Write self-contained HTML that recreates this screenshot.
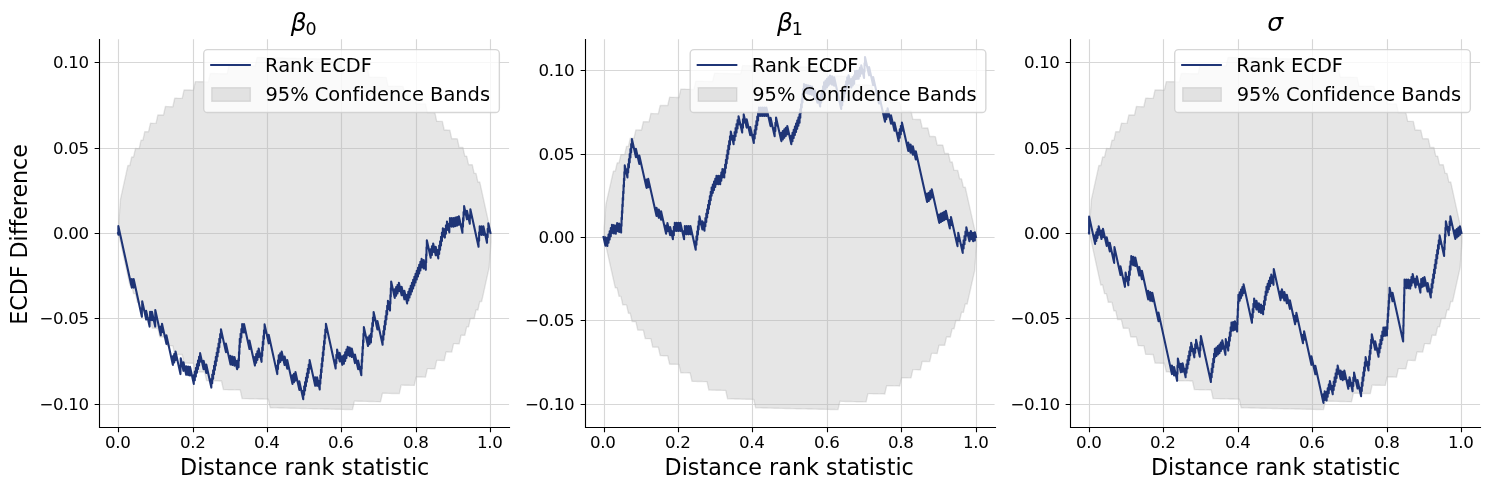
<!DOCTYPE html>
<html lang="en"><head><meta charset="utf-8"><title>SBC ECDF difference plots</title>
<style>html,body{margin:0;padding:0;background:#fff}svg{display:block}text{fill:#000}</style></head>
<body>
<svg width="1489" height="490" viewBox="0 0 1489 490" font-family="'DejaVu Sans', 'Liberation Sans', sans-serif" role="img" aria-label="SBC rank ECDF difference plots">
<rect width="1489" height="490" fill="#fff"/>
<defs>
<clipPath id="c0"><rect x="99.41" y="39.33" width="409.66" height="387.39"/></clipPath>
<clipPath id="c1"><rect x="584.90" y="39.33" width="409.66" height="387.39"/></clipPath>
<clipPath id="c2"><rect x="1070.39" y="39.33" width="409.66" height="387.39"/></clipPath>
</defs>
<g>
<polygon clip-path="url(#c0)" points="118.58,225.01 120.45,199.44 122.32,190.95 124.20,182.45 126.07,173.96 127.94,165.46 129.81,165.51 131.68,157.01 133.55,157.06 135.42,148.56 137.30,148.60 139.17,148.65 141.04,140.15 142.91,140.20 144.78,131.70 146.65,131.75 148.52,131.79 150.40,123.29 152.27,123.34 154.14,123.38 156.01,123.42 157.88,114.93 159.75,114.97 161.62,115.01 163.50,115.06 165.37,106.56 167.24,106.61 169.11,106.65 170.98,106.69 172.85,106.73 174.72,98.24 176.60,98.28 178.47,98.33 180.34,98.37 182.21,98.41 184.08,89.92 185.95,89.96 187.82,90.00 189.70,90.05 191.57,90.09 193.44,90.13 195.31,81.64 197.18,81.68 199.05,81.72 200.92,81.77 202.80,81.81 204.67,81.85 206.54,81.89 208.41,81.94 210.28,73.44 212.15,73.49 214.02,73.53 215.90,73.57 217.77,73.61 219.64,73.66 221.51,73.70 223.38,73.74 225.25,73.79 227.12,73.83 229.00,65.33 230.87,65.38 232.74,65.42 234.61,65.46 236.48,65.51 238.35,65.55 240.23,65.59 242.10,65.63 243.97,65.68 245.84,65.72 247.71,65.76 249.58,65.80 251.45,65.85 253.33,65.89 255.20,65.93 257.07,57.44 258.94,57.48 260.81,57.52 262.68,57.57 264.55,57.61 266.43,57.65 268.30,57.69 270.17,57.74 272.04,57.78 273.91,57.82 275.78,57.87 277.65,57.91 279.53,57.95 281.40,57.99 283.27,58.04 285.14,58.08 287.01,58.12 288.88,58.16 290.75,58.21 292.63,58.25 294.50,58.29 296.37,58.34 298.24,58.38 300.11,58.42 301.98,58.46 303.85,58.51 305.73,58.55 307.60,58.59 309.47,58.63 311.34,58.68 313.21,58.72 315.08,58.76 316.95,58.81 318.83,58.85 320.70,58.89 322.57,58.93 324.44,58.98 326.31,59.02 328.18,59.06 330.05,59.10 331.93,59.15 333.80,59.19 335.67,59.23 337.54,59.28 339.41,59.32 341.28,67.90 343.15,67.94 345.03,67.98 346.90,68.03 348.77,68.07 350.64,68.11 352.51,68.15 354.38,68.20 356.25,68.24 358.13,68.28 360.00,68.32 361.87,68.37 363.74,68.41 365.61,68.45 367.48,68.50 369.35,77.08 371.23,77.12 373.10,77.16 374.97,77.20 376.84,77.25 378.71,77.29 380.58,77.33 382.46,77.37 384.33,77.42 386.20,77.46 388.07,86.04 389.94,86.08 391.81,86.12 393.68,86.17 395.56,86.21 397.43,86.25 399.30,86.30 401.17,86.34 403.04,86.38 404.91,94.96 406.78,95.00 408.66,95.05 410.53,95.09 412.40,95.13 414.27,95.17 416.14,103.75 418.01,103.80 419.88,103.84 421.76,103.88 423.63,103.92 425.50,103.97 427.37,112.55 429.24,112.59 431.11,112.63 432.98,112.67 434.86,112.72 436.73,121.30 438.60,121.34 440.47,121.38 442.34,121.42 444.21,130.00 446.08,130.05 447.96,130.09 449.83,130.13 451.70,138.71 453.57,138.75 455.44,138.80 457.31,138.84 459.18,147.42 461.06,147.46 462.93,147.50 464.80,156.08 466.67,156.12 468.54,164.70 470.41,164.75 472.28,164.79 474.16,173.37 476.03,173.41 477.90,181.99 479.77,182.03 481.64,190.61 483.51,199.19 485.38,207.77 487.26,216.35 489.13,224.93 491.00,233.51 491.00,242.04 489.13,267.61 487.26,276.10 485.38,284.60 483.51,293.09 481.64,301.59 479.77,301.54 477.90,310.04 476.03,309.99 474.16,318.49 472.28,318.45 470.41,318.40 468.54,326.90 466.67,326.85 464.80,335.35 462.93,335.30 461.06,335.26 459.18,343.76 457.31,343.71 455.44,343.67 453.57,343.63 451.70,352.12 449.83,352.08 447.96,352.04 446.08,351.99 444.21,360.49 442.34,360.44 440.47,360.40 438.60,360.36 436.73,360.32 434.86,368.81 432.98,368.77 431.11,368.72 429.24,368.68 427.37,368.64 425.50,377.13 423.63,377.09 421.76,377.05 419.88,377.00 418.01,376.96 416.14,376.92 414.27,385.41 412.40,385.37 410.53,385.33 408.66,385.28 406.78,385.24 404.91,385.20 403.04,385.16 401.17,385.11 399.30,393.61 397.43,393.56 395.56,393.52 393.68,393.48 391.81,393.44 389.94,393.39 388.07,393.35 386.20,393.31 384.33,393.26 382.46,393.22 380.58,401.72 378.71,401.67 376.84,401.63 374.97,401.59 373.10,401.54 371.23,401.50 369.35,401.46 367.48,401.42 365.61,401.37 363.74,401.33 361.87,401.29 360.00,401.25 358.13,401.20 356.25,401.16 354.38,401.12 352.51,409.61 350.64,409.57 348.77,409.53 346.90,409.48 345.03,409.44 343.15,409.40 341.28,409.36 339.41,409.31 337.54,409.27 335.67,409.23 333.80,409.18 331.93,409.14 330.05,409.10 328.18,409.06 326.31,409.01 324.44,408.97 322.57,408.93 320.70,408.89 318.83,408.84 316.95,408.80 315.08,408.76 313.21,408.71 311.34,408.67 309.47,408.63 307.60,408.59 305.73,408.54 303.85,408.50 301.98,408.46 300.11,408.42 298.24,408.37 296.37,408.33 294.50,408.29 292.63,408.24 290.75,408.20 288.88,408.16 287.01,408.12 285.14,408.07 283.27,408.03 281.40,407.99 279.53,407.95 277.65,407.90 275.78,407.86 273.91,407.82 272.04,407.77 270.17,407.73 268.30,399.15 266.43,399.11 264.55,399.07 262.68,399.02 260.81,398.98 258.94,398.94 257.07,398.90 255.20,398.85 253.33,398.81 251.45,398.77 249.58,398.73 247.71,398.68 245.84,398.64 243.97,398.60 242.10,398.55 240.23,389.97 238.35,389.93 236.48,389.89 234.61,389.85 232.74,389.80 230.87,389.76 229.00,389.72 227.12,389.68 225.25,389.63 223.38,389.59 221.51,381.01 219.64,380.97 217.77,380.93 215.90,380.88 214.02,380.84 212.15,380.80 210.28,380.75 208.41,380.71 206.54,380.67 204.67,372.09 202.80,372.05 200.92,372.00 199.05,371.96 197.18,371.92 195.31,371.88 193.44,363.30 191.57,363.25 189.70,363.21 187.82,363.17 185.95,363.13 184.08,363.08 182.21,354.50 180.34,354.46 178.47,354.42 176.60,354.38 174.72,354.33 172.85,345.75 170.98,345.71 169.11,345.67 167.24,345.63 165.37,337.05 163.50,337.00 161.62,336.96 159.75,336.92 157.88,328.34 156.01,328.30 154.14,328.25 152.27,328.21 150.40,319.63 148.52,319.59 146.65,319.55 144.78,310.97 142.91,310.93 141.04,302.35 139.17,302.30 137.30,302.26 135.42,293.68 133.55,293.64 131.68,285.06 129.81,285.02 127.94,276.44 126.07,267.86 124.20,259.28 122.32,250.70 120.45,242.12 118.58,233.54" fill="#808080" fill-opacity="0.2" stroke="#808080" stroke-opacity="0.2" stroke-width="1.389" stroke-linejoin="round"/>
<path d="M118.5 39.33 V426.72 M193.5 39.33 V426.72 M267.5 39.33 V426.72 M341.5 39.33 V426.72 M416.5 39.33 V426.72 M490.5 39.33 V426.72 M99.41 404.5 H509.07 M99.41 318.5 H509.07 M99.41 233.5 H509.07 M99.41 148.5 H509.07 M99.41 62.5 H509.07" fill="none" stroke="#b0b0b0" stroke-opacity="0.5" stroke-width="1.111"/>
<polyline clip-path="url(#c0)" points="118.03,233.03 118.38,234.64 118.38,226.10 131.79,287.57 131.79,279.03 133.65,287.57 133.65,279.03 141.88,316.78 141.88,308.24 142.21,309.74 142.21,301.20 146.18,319.41 146.18,310.87 149.61,326.59 149.61,318.06 150.10,320.29 150.10,311.76 151.96,320.29 151.96,311.76 155.20,326.59 155.20,318.06 155.28,318.45 155.28,309.92 160.79,335.16 160.79,326.63 162.01,332.23 162.01,323.69 166.41,343.86 166.41,335.33 172.86,364.88 172.86,356.34 174.20,362.49 174.20,353.96 175.54,360.11 175.54,351.57 180.46,374.10 180.46,365.57 180.74,366.84 180.74,358.31 183.47,370.82 183.47,362.29 186.20,374.80 186.20,366.27 188.13,375.11 188.13,366.57 190.05,375.41 190.05,366.88 193.77,383.90 193.77,375.36 194.82,380.20 194.82,371.66 195.88,376.50 195.88,367.96 196.93,372.80 196.93,364.26 197.99,369.10 197.99,360.56 199.04,365.40 199.04,356.86 200.10,361.70 200.10,353.16 203.62,369.29 203.62,360.76 206.28,372.97 206.28,364.43 211.33,387.57 211.33,379.03 212.22,383.14 212.22,374.61 213.12,378.72 213.12,370.18 214.02,374.29 214.02,365.75 214.91,369.86 214.91,361.32 215.81,365.43 215.81,356.90 216.71,361.00 216.71,352.47 217.60,356.58 217.60,348.04 218.50,352.15 218.50,343.61 219.32,347.37 219.32,338.84 220.14,342.60 220.14,334.06 220.96,337.82 220.96,329.29 225.95,352.15 225.95,343.61 230.48,364.39 230.48,355.86 232.48,365.01 232.48,356.47 234.47,365.62 234.47,357.08 237.13,369.29 237.13,360.76 238.57,367.33 238.57,358.79 238.97,360.63 238.97,352.10 239.37,353.94 239.37,345.41 239.77,347.25 239.77,338.71 240.57,342.35 240.57,333.82 241.36,337.45 241.36,328.92 242.16,332.56 242.16,324.02 244.02,332.56 244.02,324.02 249.47,349.02 249.47,340.49 254.93,365.49 254.93,356.95 256.17,362.68 256.17,354.14 257.42,359.86 257.42,351.32 258.67,357.05 258.67,348.51 261.57,361.82 261.57,353.28 262.18,356.04 262.18,347.50 262.78,350.26 262.78,341.72 263.38,344.48 263.38,335.94 263.98,338.70 263.98,330.17 264.58,332.92 264.58,324.39 268.71,343.33 268.71,334.80 277.29,374.10 277.29,365.57 278.02,368.94 278.02,360.41 278.76,363.78 278.76,355.24 280.22,361.94 280.22,353.41 281.68,360.11 281.68,351.57 284.61,365.01 284.61,356.47 287.28,368.68 287.28,360.14 292.46,383.90 292.46,375.36 293.96,382.25 293.96,373.71 295.46,380.60 295.46,372.06 299.36,389.90 299.36,381.36 303.25,399.20 303.25,390.67 304.16,394.84 304.16,386.31 305.07,390.48 305.07,381.95 305.98,386.12 305.98,377.59 306.89,381.76 306.89,373.22 307.80,377.40 307.80,368.86 308.71,373.04 308.71,364.50 309.62,368.68 309.62,360.14 315.21,385.73 315.21,377.20 317.10,385.86 317.10,377.33 319.73,389.41 319.73,380.87 320.35,383.70 320.35,375.17 320.97,378.00 320.97,369.46 321.58,372.29 321.58,363.76 322.20,366.59 322.20,358.05 322.82,360.88 322.82,352.34 323.44,355.17 323.44,346.64 324.05,349.47 324.05,340.93 324.67,343.76 324.67,335.23 325.29,338.06 325.29,329.52 325.91,332.35 325.91,323.82 335.65,368.49 335.65,359.95 336.37,363.23 336.37,354.69 337.08,357.97 337.08,349.43 339.69,361.39 339.69,352.85 342.30,364.82 342.30,356.28 343.92,363.72 343.92,355.18 345.17,360.90 345.17,352.36 346.42,358.07 346.42,349.54 347.66,355.25 347.66,346.71 349.71,356.12 349.71,347.58 351.76,356.99 351.76,348.45 354.95,363.07 354.95,354.53 358.14,369.14 358.14,360.61 361.33,375.22 361.33,366.69 361.75,368.63 361.75,360.09 362.18,362.04 362.18,353.50 362.60,355.44 362.60,346.91 363.02,348.85 363.02,340.31 363.45,342.25 363.45,333.72 363.87,335.66 363.87,327.12 367.98,345.94 367.98,337.40 369.45,344.17 369.45,335.63 370.93,342.39 370.93,333.86 371.60,336.94 371.60,328.41 372.27,331.50 372.27,322.96 372.95,326.05 372.95,317.51 373.62,320.60 373.62,312.06 377.43,329.54 377.43,321.00 382.61,344.71 382.61,336.18 383.37,339.66 383.37,331.12 384.12,334.61 384.12,326.07 384.88,329.55 384.88,321.01 385.64,324.50 385.64,315.96 386.40,319.44 386.40,310.91 387.16,314.39 387.16,305.85 387.92,309.33 387.92,300.80 390.02,310.43 390.02,301.89 390.40,303.63 390.40,295.10 390.78,296.84 390.78,288.30 391.16,290.05 391.16,281.51 394.73,297.88 394.73,289.34 396.12,295.68 396.12,287.14 397.50,293.47 397.50,284.94 398.88,291.27 398.88,282.73 401.62,295.31 401.62,286.77 404.37,299.35 404.37,290.81 407.11,303.39 407.11,294.85 408.32,300.39 408.32,291.85 409.52,297.39 409.52,288.85 410.73,294.39 410.73,285.85 411.94,291.39 411.94,282.85 413.15,288.39 413.15,279.85 414.36,285.39 414.36,276.85 415.56,282.39 415.56,273.85 416.77,279.39 416.77,270.86 417.98,276.39 417.98,267.86 419.19,273.39 419.19,264.86 420.39,270.39 420.39,261.86 421.60,267.39 421.60,258.86 423.72,268.55 423.72,260.02 425.83,269.71 425.83,261.18 426.17,262.72 426.17,254.18 426.50,255.72 426.50,247.18 426.84,248.72 426.84,240.18 430.68,257.78 430.68,249.24 431.92,254.93 431.92,246.40 433.16,252.09 433.16,243.55 435.71,255.24 435.71,246.70 438.26,258.39 438.26,249.85 439.18,254.05 439.18,245.52 440.09,249.72 440.09,241.18 441.01,245.39 441.01,236.85 441.93,241.05 441.93,232.52 442.84,236.72 442.84,228.18 444.89,237.57 444.89,229.03 445.93,233.78 445.93,225.24 446.96,229.99 446.96,221.45 449.34,232.37 449.34,223.83 449.95,226.62 449.95,218.08 451.81,226.62 451.81,218.08 453.67,226.62 453.67,218.08 455.42,226.09 455.42,217.56 457.17,225.57 457.17,217.03 458.86,224.78 458.86,216.24 462.44,232.67 462.44,224.14 463.00,226.68 463.00,218.14 463.55,220.68 463.55,212.14 464.11,214.68 464.11,206.14 466.96,219.21 466.96,210.67 469.80,223.73 469.80,215.20 470.36,217.74 470.36,209.20 478.55,246.76 478.55,238.22 479.12,240.82 479.12,232.28 479.69,234.88 479.69,226.35 481.55,234.88 481.55,226.35 483.41,234.88 483.41,226.35 486.99,242.78 486.99,234.24 487.66,237.30 487.66,228.76 488.33,231.82 488.33,223.29 490.45,233.03" fill="none" stroke="#132a70" stroke-opacity="0.95" stroke-width="2.083" stroke-linejoin="round" stroke-linecap="square"/>
<path d="M99.5 39.5 V427.5 M99.5 427.5 H509.5" fill="none" stroke="#000" stroke-width="1.111" stroke-linecap="square"/>
<path d="M118.5 427.5 v4.86 M193.5 427.5 v4.86 M267.5 427.5 v4.86 M341.5 427.5 v4.86 M416.5 427.5 v4.86 M490.5 427.5 v4.86 M99.5 404.5 h-4.86 M99.5 318.5 h-4.86 M99.5 233.5 h-4.86 M99.5 148.5 h-4.86 M99.5 62.5 h-4.86" fill="none" stroke="#000" stroke-width="1.111"/>
<g font-size="16.667" text-anchor="middle" letter-spacing="-0.40">
<text x="117.70" y="448.32">0.0</text>
<text x="192.70" y="448.32">0.2</text>
<text x="266.70" y="448.32">0.4</text>
<text x="340.70" y="448.32">0.6</text>
<text x="415.70" y="448.32">0.8</text>
<text x="489.70" y="448.32">1.0</text>
</g>
<g font-size="16.667" text-anchor="end" letter-spacing="-0.40">
<text x="88.61" y="410.33">−0.10</text>
<text x="88.61" y="324.33">−0.05</text>
<text x="88.61" y="239.33">0.00</text>
<text x="88.61" y="154.33">0.05</text>
<text x="88.61" y="68.33">0.10</text>
</g>
<text x="304.69" y="475.01" font-size="22.222" text-anchor="middle" letter-spacing="0.04">Distance rank statistic</text>
<text x="290.70" y="31.00" font-size="25.000"><tspan font-style="italic">β</tspan><tspan font-size="17.500" x="305.45" dy="4.10">0</tspan></text>
<rect x="203.70" y="49.65" width="295.65" height="62.91" rx="3.89" fill="#fff" fill-opacity="0.8" stroke="#ccc" stroke-opacity="0.8" stroke-width="1.389"/>
<path d="M210.18 65.05 H250.87" stroke="#132a70" stroke-opacity="0.95" stroke-width="2.083"/>
<rect x="211.73" y="87.70" width="38.60" height="13.60" fill="#808080" fill-opacity="0.2" stroke="#808080" stroke-opacity="0.2" stroke-width="1.389"/>
<text x="265.12" y="72.20" font-size="19.444">Rank ECDF</text>
<text x="265.52" y="100.65" font-size="19.444" letter-spacing="-0.02">95% Confidence Bands</text>
</g>
<g>
<polygon clip-path="url(#c1)" points="604.07,229.26 605.94,204.28 607.81,195.98 609.69,187.68 611.56,179.38 613.43,171.09 615.30,171.13 617.17,162.83 619.04,162.87 620.91,154.57 622.79,154.62 624.66,154.66 626.53,146.36 628.40,146.40 630.27,138.10 632.14,138.14 634.01,138.19 635.89,129.89 637.76,129.93 639.63,129.97 641.50,130.01 643.37,121.71 645.24,121.76 647.11,121.80 648.99,121.84 650.86,113.54 652.73,113.58 654.60,113.63 656.47,113.67 658.34,113.71 660.21,105.41 662.09,105.45 663.96,105.49 665.83,105.54 667.70,105.58 669.57,97.28 671.44,97.32 673.31,97.36 675.19,97.40 677.06,97.45 678.93,97.49 680.80,89.19 682.67,89.23 684.54,89.27 686.41,89.32 688.29,89.36 690.16,89.40 692.03,89.44 693.90,89.48 695.77,81.18 697.64,81.23 699.51,81.27 701.39,81.31 703.26,81.35 705.13,81.39 707.00,81.43 708.87,81.48 710.74,81.52 712.61,81.56 714.49,73.26 716.36,73.30 718.23,73.35 720.10,73.39 721.97,73.43 723.84,73.47 725.72,73.51 727.59,73.55 729.46,73.60 731.33,73.64 733.20,73.68 735.07,73.72 736.94,73.76 738.82,73.80 740.69,73.85 742.56,65.55 744.43,65.59 746.30,65.63 748.17,65.67 750.04,65.72 751.92,65.76 753.79,65.80 755.66,65.84 757.53,65.88 759.40,65.92 761.27,65.97 763.14,66.01 765.02,66.05 766.89,66.09 768.76,66.13 770.63,66.17 772.50,66.22 774.37,66.26 776.24,66.30 778.12,66.34 779.99,66.38 781.86,66.42 783.73,66.47 785.60,66.51 787.47,66.55 789.34,66.59 791.22,66.63 793.09,66.68 794.96,66.72 796.83,66.76 798.70,66.80 800.57,66.84 802.44,66.88 804.32,66.93 806.19,66.97 808.06,67.01 809.93,67.05 811.80,67.09 813.67,67.13 815.54,67.18 817.42,67.22 819.29,67.26 821.16,67.30 823.03,67.34 824.90,67.38 826.77,75.77 828.64,75.81 830.52,75.85 832.39,75.89 834.26,75.93 836.13,75.98 838.00,76.02 839.87,76.06 841.74,76.10 843.62,76.14 845.49,76.18 847.36,76.23 849.23,76.27 851.10,76.31 852.97,76.35 854.84,84.73 856.72,84.77 858.59,84.82 860.46,84.86 862.33,84.90 864.20,84.94 866.07,84.98 867.95,85.02 869.82,85.07 871.69,85.11 873.56,93.49 875.43,93.53 877.30,93.57 879.17,93.61 881.05,93.66 882.92,93.70 884.79,93.74 886.66,93.78 888.53,93.82 890.40,102.21 892.27,102.25 894.15,102.29 896.02,102.33 897.89,102.37 899.76,102.41 901.63,110.80 903.50,110.84 905.37,110.88 907.25,110.92 909.12,110.96 910.99,111.00 912.86,119.39 914.73,119.43 916.60,119.47 918.47,119.51 920.35,119.55 922.22,127.93 924.09,127.98 925.96,128.02 927.83,128.06 929.70,136.44 931.57,136.48 933.45,136.52 935.32,136.57 937.19,144.95 939.06,144.99 940.93,145.03 942.80,145.07 944.67,153.45 946.55,153.50 948.42,153.54 950.29,161.92 952.16,161.96 954.03,170.34 955.90,170.38 957.77,170.43 959.65,178.81 961.52,178.85 963.39,187.23 965.26,187.27 967.13,195.66 969.00,204.04 970.87,212.42 972.75,220.80 974.62,229.18 976.49,237.56 976.49,245.90 974.62,270.88 972.75,279.18 970.87,287.48 969.00,295.78 967.13,304.07 965.26,304.03 963.39,312.33 961.52,312.29 959.65,320.59 957.77,320.54 955.90,320.50 954.03,328.80 952.16,328.76 950.29,337.06 948.42,337.02 946.55,336.97 944.67,345.27 942.80,345.23 940.93,345.19 939.06,345.15 937.19,353.44 935.32,353.40 933.45,353.36 931.57,353.32 929.70,361.62 927.83,361.58 925.96,361.53 924.09,361.49 922.22,361.45 920.35,369.75 918.47,369.71 916.60,369.67 914.73,369.62 912.86,369.58 910.99,377.88 909.12,377.84 907.25,377.80 905.37,377.75 903.50,377.71 901.63,377.67 899.76,385.97 897.89,385.93 896.02,385.89 894.15,385.84 892.27,385.80 890.40,385.76 888.53,385.72 886.66,385.68 884.79,393.98 882.92,393.93 881.05,393.89 879.17,393.85 877.30,393.81 875.43,393.77 873.56,393.72 871.69,393.68 869.82,393.64 867.95,393.60 866.07,401.90 864.20,401.86 862.33,401.81 860.46,401.77 858.59,401.73 856.72,401.69 854.84,401.65 852.97,401.61 851.10,401.56 849.23,401.52 847.36,401.48 845.49,401.44 843.62,401.40 841.74,401.35 839.87,401.31 838.00,409.61 836.13,409.57 834.26,409.53 832.39,409.49 830.52,409.44 828.64,409.40 826.77,409.36 824.90,409.32 823.03,409.28 821.16,409.24 819.29,409.19 817.42,409.15 815.54,409.11 813.67,409.07 811.80,409.03 809.93,408.99 808.06,408.94 806.19,408.90 804.32,408.86 802.44,408.82 800.57,408.78 798.70,408.73 796.83,408.69 794.96,408.65 793.09,408.61 791.22,408.57 789.34,408.53 787.47,408.48 785.60,408.44 783.73,408.40 781.86,408.36 779.99,408.32 778.12,408.28 776.24,408.23 774.37,408.19 772.50,408.15 770.63,408.11 768.76,408.07 766.89,408.03 765.02,407.98 763.14,407.94 761.27,407.90 759.40,407.86 757.53,407.82 755.66,407.77 753.79,399.39 751.92,399.35 750.04,399.31 748.17,399.27 746.30,399.23 744.43,399.18 742.56,399.14 740.69,399.10 738.82,399.06 736.94,399.02 735.07,398.98 733.20,398.93 731.33,398.89 729.46,398.85 727.59,398.81 725.72,390.43 723.84,390.39 721.97,390.34 720.10,390.30 718.23,390.26 716.36,390.22 714.49,390.18 712.61,390.13 710.74,390.09 708.87,390.05 707.00,381.67 705.13,381.63 703.26,381.59 701.39,381.54 699.51,381.50 697.64,381.46 695.77,381.42 693.90,381.38 692.03,381.34 690.16,372.95 688.29,372.91 686.41,372.87 684.54,372.83 682.67,372.79 680.80,372.75 678.93,364.36 677.06,364.32 675.19,364.28 673.31,364.24 671.44,364.20 669.57,364.16 667.70,355.77 665.83,355.73 663.96,355.69 662.09,355.65 660.21,355.61 658.34,347.23 656.47,347.18 654.60,347.14 652.73,347.10 650.86,338.72 648.99,338.68 647.11,338.63 645.24,338.59 643.37,330.21 641.50,330.17 639.63,330.13 637.76,330.09 635.89,321.70 634.01,321.66 632.14,321.62 630.27,313.24 628.40,313.20 626.53,304.82 624.66,304.77 622.79,304.73 620.91,296.35 619.04,296.31 617.17,287.93 615.30,287.89 613.43,279.50 611.56,271.12 609.69,262.74 607.81,254.36 605.94,245.98 604.07,237.60" fill="#808080" fill-opacity="0.2" stroke="#808080" stroke-opacity="0.2" stroke-width="1.389" stroke-linejoin="round"/>
<path d="M604.5 39.33 V426.72 M678.5 39.33 V426.72 M752.5 39.33 V426.72 M827.5 39.33 V426.72 M901.5 39.33 V426.72 M976.5 39.33 V426.72 M584.90 404.5 H994.56 M584.90 320.5 H994.56 M584.90 237.5 H994.56 M584.90 154.5 H994.56 M584.90 70.5 H994.56" fill="none" stroke="#b0b0b0" stroke-opacity="0.5" stroke-width="1.111"/>
<polyline clip-path="url(#c1)" points="603.52,237.08 605.45,245.73 605.45,237.39 607.38,246.04 607.38,237.70 608.52,242.81 608.52,234.47 609.66,239.58 609.66,231.24 610.80,236.35 610.80,228.01 611.94,233.12 611.94,224.78 613.88,233.46 613.88,225.12 615.82,233.80 615.82,225.46 617.12,231.28 617.12,222.94 619.13,231.93 619.13,223.59 621.13,232.57 621.13,224.23 621.53,226.03 621.53,217.69 621.94,219.50 621.94,211.16 622.34,212.96 622.34,204.62 622.74,206.42 622.74,198.08 623.14,199.88 623.14,191.54 623.55,193.34 623.55,185.00 623.95,186.80 623.95,178.46 624.35,180.27 624.35,171.93 624.75,173.73 624.75,165.39 627.45,177.47 627.45,169.13 628.19,172.46 628.19,164.12 628.94,167.45 628.94,159.11 629.68,162.44 629.68,154.10 630.42,157.42 630.42,149.08 631.17,152.41 631.17,144.07 631.91,147.40 631.91,139.06 635.96,157.20 635.96,148.86 639.32,163.93 639.32,155.59 646.53,187.88 646.53,179.54 648.24,187.20 648.24,178.86 656.55,216.04 656.55,207.70 658.81,217.84 658.81,209.50 661.07,219.65 661.07,211.31 666.10,233.80 666.10,225.46 667.40,231.28 667.40,222.94 670.15,235.29 670.15,226.95 672.91,239.31 672.91,230.97 673.85,235.17 673.85,226.83 674.79,231.03 674.79,222.69 676.65,231.03 676.65,222.69 678.51,231.03 678.51,222.69 680.38,231.03 680.38,222.69 684.09,239.31 684.09,230.97 684.84,234.34 684.84,226.00 686.70,234.34 686.70,226.00 688.56,234.34 688.56,226.00 690.43,234.34 690.43,226.00 695.72,249.71 695.72,241.37 696.46,244.68 696.46,236.34 697.20,239.65 697.20,231.31 697.93,234.61 697.93,226.27 698.67,229.58 698.67,221.24 699.41,224.54 699.41,216.20 702.38,229.51 702.38,221.17 704.50,230.67 704.50,222.33 705.39,226.30 705.39,217.96 706.28,221.94 706.28,213.60 707.17,217.58 707.17,209.24 708.05,213.22 708.05,204.88 708.94,208.86 708.94,200.52 709.83,204.49 709.83,196.15 710.72,200.13 710.72,191.79 711.61,195.77 711.61,187.43 712.82,192.86 712.82,184.52 714.03,189.95 714.03,181.61 715.25,187.04 715.25,178.70 716.46,184.14 716.46,175.80 718.33,184.17 718.33,175.83 720.20,184.20 720.20,175.86 721.30,180.80 721.30,172.46 722.40,177.40 722.40,169.06 724.28,177.47 724.28,169.13 725.09,172.77 725.09,164.43 725.90,168.06 725.90,159.72 726.72,163.36 726.72,155.02 727.53,158.66 727.53,150.32 728.34,153.96 728.34,145.62 729.15,149.25 729.15,140.92 729.97,144.55 729.97,136.21 730.78,139.85 730.78,131.51 733.61,144.20 733.61,135.86 734.60,140.27 734.60,131.93 735.58,136.34 735.58,128.00 736.56,132.41 736.56,124.07 737.55,128.48 737.55,120.14 738.53,124.54 738.53,116.20 742.19,132.57 742.19,124.23 742.95,127.64 742.95,119.30 743.71,122.71 743.71,114.37 746.67,127.61 746.67,119.27 750.24,135.29 750.24,126.95 753.82,142.98 753.82,134.64 754.68,138.48 754.68,130.14 755.54,133.98 755.54,125.64 756.39,129.48 756.39,121.14 757.25,124.97 757.25,116.64 758.11,120.47 758.11,112.13 758.96,115.97 758.96,107.63 760.83,115.97 760.83,107.63 762.69,115.97 762.69,107.63 764.55,115.97 764.55,107.63 766.41,115.97 766.41,107.63 770.54,126.11 770.54,117.77 774.66,136.24 774.66,127.91 775.36,131.01 775.36,122.67 776.05,125.77 776.05,117.43 781.34,141.14 781.34,132.80 782.83,139.44 782.83,131.10 784.31,137.74 784.31,129.40 785.79,136.04 785.79,127.70 787.27,134.34 787.27,126.00 791.34,144.20 791.34,135.86 792.51,141.13 792.51,132.79 793.69,138.06 793.69,129.72 794.87,134.99 794.87,126.65 796.04,131.92 796.04,123.58 797.22,128.85 797.22,120.51 798.40,125.78 798.40,117.44 799.57,122.71 799.57,114.37 800.31,117.66 800.31,109.32 801.04,112.61 801.04,104.27 801.78,107.55 801.78,99.21 802.51,102.50 802.51,94.16 803.24,97.45 803.24,89.11 803.98,92.40 803.98,84.06 805.98,93.01 805.98,84.67 807.98,93.63 807.98,85.29 809.98,94.24 809.98,85.90 811.97,94.85 811.97,86.51 814.71,98.75 814.71,90.41 817.44,102.65 817.44,94.31 820.17,106.55 820.17,98.21 821.14,102.55 821.14,94.21 822.11,98.56 822.11,90.22 823.08,94.56 823.08,86.22 824.05,90.56 824.05,82.22 825.54,88.88 825.54,80.54 827.03,87.20 827.03,78.86 828.51,85.51 828.51,77.17 830.00,83.83 830.00,75.49 832.06,84.75 832.06,76.41 834.13,85.67 834.13,77.33 841.20,109.00 841.20,100.66 842.20,105.14 842.20,96.80 843.20,101.28 843.20,92.94 844.20,97.41 844.20,89.07 845.20,93.55 845.20,85.21 846.20,89.69 846.20,81.35 847.20,85.83 847.20,77.49 848.58,83.65 848.58,75.31 851.29,87.46 851.29,79.12 852.73,85.56 852.73,77.22 854.17,83.65 854.17,75.31 855.06,79.30 855.06,70.96 856.86,79.03 856.86,70.69 858.66,78.76 858.66,70.42 859.94,76.17 859.94,67.83 861.23,73.58 861.23,65.24 864.06,77.94 864.06,69.60 864.53,71.68 864.53,63.34 864.99,65.42 864.99,57.08 869.07,75.35 869.07,67.01 873.15,85.29 873.15,76.95 879.07,103.47 879.07,95.13 885.00,121.65 885.00,113.31 886.30,119.17 886.30,110.83 887.61,116.69 887.61,108.35 891.05,123.73 891.05,115.39 894.48,130.77 894.48,122.43 898.68,141.24 898.68,132.91 899.76,137.75 899.76,129.41 900.85,134.26 900.85,125.92 901.93,130.77 901.93,122.43 908.30,150.97 908.30,142.63 910.57,152.81 910.57,144.47 912.85,154.65 912.85,146.31 915.80,159.54 915.80,151.20 927.13,201.93 927.13,193.59 928.79,201.05 928.79,192.71 930.26,199.30 930.26,190.96 931.73,197.54 931.73,189.20 939.25,222.88 939.25,214.54 940.91,221.94 940.91,213.60 942.56,221.01 942.56,212.67 944.21,220.07 944.21,211.73 945.87,219.14 945.87,210.80 949.79,228.39 949.79,220.05 950.96,225.26 950.96,216.92 957.48,246.14 957.48,237.80 958.24,241.18 958.24,232.84 962.71,252.88 962.71,244.54 963.61,248.57 963.61,240.23 964.51,244.27 964.51,235.93 965.42,239.97 965.42,231.63 966.32,235.67 966.32,227.33 969.42,241.24 969.42,232.91 970.86,239.34 970.86,231.00 973.15,241.24 973.15,232.91 974.86,240.56 974.86,232.22 975.94,237.08" fill="none" stroke="#132a70" stroke-opacity="0.95" stroke-width="2.083" stroke-linejoin="round" stroke-linecap="square"/>
<path d="M585.5 39.5 V427.5 M585.5 427.5 H995.5" fill="none" stroke="#000" stroke-width="1.111" stroke-linecap="square"/>
<path d="M604.5 427.5 v4.86 M678.5 427.5 v4.86 M752.5 427.5 v4.86 M827.5 427.5 v4.86 M901.5 427.5 v4.86 M976.5 427.5 v4.86 M585.5 404.5 h-4.86 M585.5 320.5 h-4.86 M585.5 237.5 h-4.86 M585.5 154.5 h-4.86 M585.5 70.5 h-4.86" fill="none" stroke="#000" stroke-width="1.111"/>
<g font-size="16.667" text-anchor="middle" letter-spacing="-0.40">
<text x="602.70" y="448.32">0.0</text>
<text x="677.70" y="448.32">0.2</text>
<text x="751.70" y="448.32">0.4</text>
<text x="826.70" y="448.32">0.6</text>
<text x="900.70" y="448.32">0.8</text>
<text x="975.70" y="448.32">1.0</text>
</g>
<g font-size="16.667" text-anchor="end" letter-spacing="-0.40">
<text x="574.10" y="410.33">−0.10</text>
<text x="574.10" y="326.33">−0.05</text>
<text x="574.10" y="243.33">0.00</text>
<text x="574.10" y="160.33">0.05</text>
<text x="574.10" y="76.33">0.10</text>
</g>
<text x="789.18" y="475.01" font-size="22.222" text-anchor="middle" letter-spacing="0.04">Distance rank statistic</text>
<text x="776.99" y="31.00" font-size="25.000"><tspan font-style="italic">β</tspan><tspan font-size="17.500" x="791.74" dy="4.10">1</tspan></text>
<rect x="690.19" y="49.65" width="295.65" height="62.91" rx="3.89" fill="#fff" fill-opacity="0.8" stroke="#ccc" stroke-opacity="0.8" stroke-width="1.389"/>
<path d="M696.67 65.05 H737.36" stroke="#132a70" stroke-opacity="0.95" stroke-width="2.083"/>
<rect x="698.22" y="87.70" width="38.60" height="13.60" fill="#808080" fill-opacity="0.2" stroke="#808080" stroke-opacity="0.2" stroke-width="1.389"/>
<text x="751.81" y="72.20" font-size="19.444">Rank ECDF</text>
<text x="752.21" y="100.65" font-size="19.444" letter-spacing="-0.02">95% Confidence Bands</text>
</g>
<g>
<polygon clip-path="url(#c2)" points="1089.56,225.01 1091.43,199.44 1093.30,190.95 1095.18,182.45 1097.05,173.96 1098.92,165.46 1100.79,165.51 1102.66,157.01 1104.53,157.06 1106.40,148.56 1108.28,148.60 1110.15,148.65 1112.02,140.15 1113.89,140.20 1115.76,131.70 1117.63,131.75 1119.50,131.79 1121.38,123.29 1123.25,123.34 1125.12,123.38 1126.99,123.42 1128.86,114.93 1130.73,114.97 1132.60,115.01 1134.48,115.06 1136.35,106.56 1138.22,106.61 1140.09,106.65 1141.96,106.69 1143.83,106.73 1145.70,98.24 1147.58,98.28 1149.45,98.33 1151.32,98.37 1153.19,98.41 1155.06,89.92 1156.93,89.96 1158.80,90.00 1160.68,90.05 1162.55,90.09 1164.42,90.13 1166.29,81.64 1168.16,81.68 1170.03,81.72 1171.90,81.77 1173.78,81.81 1175.65,81.85 1177.52,81.89 1179.39,81.94 1181.26,73.44 1183.13,73.49 1185.00,73.53 1186.88,73.57 1188.75,73.61 1190.62,73.66 1192.49,73.70 1194.36,73.74 1196.23,73.79 1198.10,73.83 1199.98,65.33 1201.85,65.38 1203.72,65.42 1205.59,65.46 1207.46,65.51 1209.33,65.55 1211.21,65.59 1213.08,65.63 1214.95,65.68 1216.82,65.72 1218.69,65.76 1220.56,65.80 1222.43,65.85 1224.31,65.89 1226.18,65.93 1228.05,57.44 1229.92,57.48 1231.79,57.52 1233.66,57.57 1235.53,57.61 1237.41,57.65 1239.28,57.69 1241.15,57.74 1243.02,57.78 1244.89,57.82 1246.76,57.87 1248.63,57.91 1250.51,57.95 1252.38,57.99 1254.25,58.04 1256.12,58.08 1257.99,58.12 1259.86,58.16 1261.73,58.21 1263.61,58.25 1265.48,58.29 1267.35,58.34 1269.22,58.38 1271.09,58.42 1272.96,58.46 1274.83,58.51 1276.71,58.55 1278.58,58.59 1280.45,58.63 1282.32,58.68 1284.19,58.72 1286.06,58.76 1287.93,58.81 1289.81,58.85 1291.68,58.89 1293.55,58.93 1295.42,58.98 1297.29,59.02 1299.16,59.06 1301.03,59.10 1302.91,59.15 1304.78,59.19 1306.65,59.23 1308.52,59.28 1310.39,59.32 1312.26,67.90 1314.13,67.94 1316.01,67.98 1317.88,68.03 1319.75,68.07 1321.62,68.11 1323.49,68.15 1325.36,68.20 1327.23,68.24 1329.11,68.28 1330.98,68.32 1332.85,68.37 1334.72,68.41 1336.59,68.45 1338.46,68.50 1340.33,77.08 1342.21,77.12 1344.08,77.16 1345.95,77.20 1347.82,77.25 1349.69,77.29 1351.56,77.33 1353.44,77.37 1355.31,77.42 1357.18,77.46 1359.05,86.04 1360.92,86.08 1362.79,86.12 1364.66,86.17 1366.54,86.21 1368.41,86.25 1370.28,86.30 1372.15,86.34 1374.02,86.38 1375.89,94.96 1377.76,95.00 1379.64,95.05 1381.51,95.09 1383.38,95.13 1385.25,95.17 1387.12,103.75 1388.99,103.80 1390.86,103.84 1392.74,103.88 1394.61,103.92 1396.48,103.97 1398.35,112.55 1400.22,112.59 1402.09,112.63 1403.96,112.67 1405.84,112.72 1407.71,121.30 1409.58,121.34 1411.45,121.38 1413.32,121.42 1415.19,130.00 1417.06,130.05 1418.94,130.09 1420.81,130.13 1422.68,138.71 1424.55,138.75 1426.42,138.80 1428.29,138.84 1430.16,147.42 1432.04,147.46 1433.91,147.50 1435.78,156.08 1437.65,156.12 1439.52,164.70 1441.39,164.75 1443.26,164.79 1445.14,173.37 1447.01,173.41 1448.88,181.99 1450.75,182.03 1452.62,190.61 1454.49,199.19 1456.36,207.77 1458.24,216.35 1460.11,224.93 1461.98,233.51 1461.98,242.04 1460.11,267.61 1458.24,276.10 1456.36,284.60 1454.49,293.09 1452.62,301.59 1450.75,301.54 1448.88,310.04 1447.01,309.99 1445.14,318.49 1443.26,318.45 1441.39,318.40 1439.52,326.90 1437.65,326.85 1435.78,335.35 1433.91,335.30 1432.04,335.26 1430.16,343.76 1428.29,343.71 1426.42,343.67 1424.55,343.63 1422.68,352.12 1420.81,352.08 1418.94,352.04 1417.06,351.99 1415.19,360.49 1413.32,360.44 1411.45,360.40 1409.58,360.36 1407.71,360.32 1405.84,368.81 1403.96,368.77 1402.09,368.72 1400.22,368.68 1398.35,368.64 1396.48,377.13 1394.61,377.09 1392.74,377.05 1390.86,377.00 1388.99,376.96 1387.12,376.92 1385.25,385.41 1383.38,385.37 1381.51,385.33 1379.64,385.28 1377.76,385.24 1375.89,385.20 1374.02,385.16 1372.15,385.11 1370.28,393.61 1368.41,393.56 1366.54,393.52 1364.66,393.48 1362.79,393.44 1360.92,393.39 1359.05,393.35 1357.18,393.31 1355.31,393.26 1353.44,393.22 1351.56,401.72 1349.69,401.67 1347.82,401.63 1345.95,401.59 1344.08,401.54 1342.21,401.50 1340.33,401.46 1338.46,401.42 1336.59,401.37 1334.72,401.33 1332.85,401.29 1330.98,401.25 1329.11,401.20 1327.23,401.16 1325.36,401.12 1323.49,409.61 1321.62,409.57 1319.75,409.53 1317.88,409.48 1316.01,409.44 1314.13,409.40 1312.26,409.36 1310.39,409.31 1308.52,409.27 1306.65,409.23 1304.78,409.18 1302.91,409.14 1301.03,409.10 1299.16,409.06 1297.29,409.01 1295.42,408.97 1293.55,408.93 1291.68,408.89 1289.81,408.84 1287.93,408.80 1286.06,408.76 1284.19,408.71 1282.32,408.67 1280.45,408.63 1278.58,408.59 1276.71,408.54 1274.83,408.50 1272.96,408.46 1271.09,408.42 1269.22,408.37 1267.35,408.33 1265.48,408.29 1263.61,408.24 1261.73,408.20 1259.86,408.16 1257.99,408.12 1256.12,408.07 1254.25,408.03 1252.38,407.99 1250.51,407.95 1248.63,407.90 1246.76,407.86 1244.89,407.82 1243.02,407.77 1241.15,407.73 1239.28,399.15 1237.41,399.11 1235.53,399.07 1233.66,399.02 1231.79,398.98 1229.92,398.94 1228.05,398.90 1226.18,398.85 1224.31,398.81 1222.43,398.77 1220.56,398.73 1218.69,398.68 1216.82,398.64 1214.95,398.60 1213.08,398.55 1211.21,389.97 1209.33,389.93 1207.46,389.89 1205.59,389.85 1203.72,389.80 1201.85,389.76 1199.98,389.72 1198.10,389.68 1196.23,389.63 1194.36,389.59 1192.49,381.01 1190.62,380.97 1188.75,380.93 1186.88,380.88 1185.00,380.84 1183.13,380.80 1181.26,380.75 1179.39,380.71 1177.52,380.67 1175.65,372.09 1173.78,372.05 1171.90,372.00 1170.03,371.96 1168.16,371.92 1166.29,371.88 1164.42,363.30 1162.55,363.25 1160.68,363.21 1158.80,363.17 1156.93,363.13 1155.06,363.08 1153.19,354.50 1151.32,354.46 1149.45,354.42 1147.58,354.38 1145.70,354.33 1143.83,345.75 1141.96,345.71 1140.09,345.67 1138.22,345.63 1136.35,337.05 1134.48,337.00 1132.60,336.96 1130.73,336.92 1128.86,328.34 1126.99,328.30 1125.12,328.25 1123.25,328.21 1121.38,319.63 1119.50,319.59 1117.63,319.55 1115.76,310.97 1113.89,310.93 1112.02,302.35 1110.15,302.30 1108.28,302.26 1106.40,293.68 1104.53,293.64 1102.66,285.06 1100.79,285.02 1098.92,276.44 1097.05,267.86 1095.18,259.28 1093.30,250.70 1091.43,242.12 1089.56,233.54" fill="#808080" fill-opacity="0.2" stroke="#808080" stroke-opacity="0.2" stroke-width="1.389" stroke-linejoin="round"/>
<path d="M1089.5 39.33 V426.72 M1163.5 39.33 V426.72 M1238.5 39.33 V426.72 M1312.5 39.33 V426.72 M1387.5 39.33 V426.72 M1461.5 39.33 V426.72 M1070.39 404.5 H1480.05 M1070.39 318.5 H1480.05 M1070.39 233.5 H1480.05 M1070.39 148.5 H1480.05 M1070.39 62.5 H1480.05" fill="none" stroke="#b0b0b0" stroke-opacity="0.5" stroke-width="1.111"/>
<polyline clip-path="url(#c2)" points="1089.01,233.03 1089.13,233.58 1089.13,216.51 1095.10,243.90 1095.10,235.36 1096.31,240.88 1096.31,232.34 1097.51,237.86 1097.51,229.32 1098.71,234.84 1098.71,226.31 1101.48,239.00 1101.48,230.46 1102.97,237.29 1102.97,228.76 1106.70,245.86 1106.70,237.33 1109.77,251.37 1109.77,242.84 1114.14,262.88 1114.14,254.34 1114.43,255.66 1114.43,247.12 1120.50,274.94 1120.50,266.41 1124.95,286.82 1124.95,278.28 1125.56,281.07 1125.56,272.53 1128.33,285.22 1128.33,276.69 1129.06,280.05 1129.06,271.52 1129.79,274.88 1129.79,266.34 1130.53,269.71 1130.53,261.17 1131.26,264.54 1131.26,256.00 1133.28,265.27 1133.28,256.73 1135.31,266.01 1135.31,257.47 1139.25,275.56 1139.25,267.02 1141.92,279.23 1141.92,270.69 1148.17,299.37 1148.17,290.83 1150.31,300.66 1150.31,292.12 1152.31,301.27 1152.31,292.73 1158.51,321.14 1158.51,312.61 1171.92,374.10 1171.92,365.57 1174.08,375.45 1174.08,366.92 1177.11,380.84 1177.11,372.30 1177.48,373.98 1177.48,365.45 1177.85,367.13 1177.85,358.59 1180.83,372.27 1180.83,363.73 1182.59,371.78 1182.59,363.24 1185.62,377.16 1185.62,368.63 1186.54,372.85 1186.54,364.31 1187.47,368.53 1187.47,360.00 1188.39,364.22 1188.39,355.68 1189.31,359.90 1189.31,351.37 1190.23,355.59 1190.23,347.05 1191.15,351.27 1191.15,342.73 1194.33,357.33 1194.33,348.79 1195.20,352.77 1195.20,344.23 1196.07,348.21 1196.07,339.67 1199.77,356.65 1199.77,348.12 1200.31,350.59 1200.31,342.06 1200.85,344.54 1200.85,336.00 1210.90,382.06 1210.90,373.52 1211.69,377.13 1211.69,368.59 1212.47,372.19 1212.47,363.66 1213.26,367.26 1213.26,358.72 1214.04,362.33 1214.04,353.79 1214.83,357.39 1214.83,348.86 1216.38,355.97 1216.38,347.43 1217.93,354.54 1217.93,346.00 1219.48,353.11 1219.48,344.57 1220.88,350.97 1220.88,342.43 1222.27,348.82 1222.27,340.29 1225.44,354.82 1225.44,346.28 1225.74,347.66 1225.74,339.12 1228.24,350.59 1228.24,342.06 1229.04,345.71 1229.04,337.17 1229.84,340.83 1229.84,332.29 1230.63,335.95 1230.63,327.41 1231.43,331.07 1231.43,322.53 1233.16,330.45 1233.16,321.92 1234.89,329.84 1234.89,321.31 1237.12,331.55 1237.12,323.01 1237.45,324.49 1237.45,315.95 1237.77,317.43 1237.77,308.90 1238.09,310.37 1238.09,301.84 1238.41,303.31 1238.41,294.78 1239.71,300.71 1239.71,292.17 1241.00,298.11 1241.00,289.57 1242.30,295.51 1242.30,286.97 1243.59,292.90 1243.59,284.37 1251.97,322.78 1251.97,314.24 1252.68,317.51 1252.68,308.98 1253.40,312.25 1253.40,303.71 1254.11,306.99 1254.11,298.45 1256.51,309.43 1256.51,300.90 1258.90,311.88 1258.90,303.35 1261.02,313.04 1261.02,304.51 1263.13,314.20 1263.13,305.67 1263.97,309.49 1263.97,300.95 1264.80,304.78 1264.80,296.24 1265.64,300.07 1265.64,291.53 1266.47,295.35 1266.47,286.82 1267.66,292.29 1267.66,283.76 1268.86,289.23 1268.86,280.69 1270.05,286.17 1270.05,277.63 1271.25,283.11 1271.25,274.57 1273.48,284.82 1273.48,276.28 1273.77,277.60 1273.77,269.06 1280.55,300.12 1280.55,291.59 1281.90,297.80 1281.90,289.27 1284.36,300.56 1284.36,292.02 1286.83,303.31 1286.83,294.78 1289.89,308.82 1289.89,300.29 1295.13,324.31 1295.13,315.77 1296.35,321.37 1296.35,312.84 1303.00,343.29 1303.00,334.75 1304.09,339.74 1304.09,331.20 1311.42,364.84 1311.42,356.31 1315.33,374.23 1315.33,365.69 1323.44,402.88 1323.44,394.34 1324.67,399.94 1324.67,391.41 1326.63,400.43 1326.63,391.89 1327.70,396.80 1327.70,388.26 1328.77,393.17 1328.77,384.63 1329.84,389.54 1329.84,381.00 1332.75,394.31 1332.75,385.77 1333.69,390.08 1333.69,381.55 1334.63,385.86 1334.63,377.33 1335.63,381.90 1335.63,373.37 1336.63,377.94 1336.63,369.41 1337.63,373.99 1337.63,365.45 1340.61,379.13 1340.61,370.59 1342.71,380.22 1342.71,371.69 1344.33,379.13 1344.33,370.59 1348.30,388.80 1348.30,380.26 1349.53,385.86 1349.53,377.33 1352.56,391.24 1352.56,382.71 1353.30,386.10 1353.30,377.57 1354.04,380.97 1354.04,372.43 1357.56,388.55 1357.56,380.02 1361.08,396.14 1361.08,387.61 1361.82,391.00 1361.82,382.47 1362.56,385.86 1362.56,377.33 1363.32,380.81 1363.32,372.28 1364.08,375.76 1364.08,367.22 1364.84,370.71 1364.84,362.17 1365.60,365.66 1365.60,357.12 1368.51,370.43 1368.51,361.89 1369.16,364.90 1369.16,356.37 1369.82,359.38 1369.82,350.84 1370.48,353.85 1370.48,345.32 1371.13,348.33 1371.13,339.79 1371.79,342.80 1371.79,334.27 1375.17,349.78 1375.17,341.24 1378.56,356.76 1378.56,348.22 1379.49,352.51 1379.49,343.98 1380.43,348.27 1380.43,339.73 1381.37,344.03 1381.37,335.49 1382.36,340.05 1382.36,331.51 1383.36,336.07 1383.36,327.53 1385.15,335.76 1385.15,327.22 1386.95,335.45 1386.95,326.92 1387.39,328.94 1387.39,320.40 1387.83,322.43 1387.83,313.89 1388.27,315.91 1388.27,307.38 1388.71,309.40 1388.71,300.86 1389.15,302.89 1389.15,294.35 1389.59,296.37 1389.59,287.84 1392.52,301.27 1392.52,292.73 1403.15,341.45 1403.15,332.91 1403.35,333.83 1403.35,325.29 1403.55,326.21 1403.55,317.67 1403.75,318.59 1403.75,310.05 1403.95,310.97 1403.95,302.43 1404.15,303.35 1404.15,294.81 1404.35,295.73 1404.35,287.19 1404.55,288.11 1404.55,279.57 1406.41,288.11 1406.41,279.57 1408.27,288.11 1408.27,279.57 1410.24,288.59 1410.24,280.06 1411.45,285.59 1411.45,277.06 1412.66,282.60 1412.66,274.06 1415.56,287.37 1415.56,278.83 1416.85,284.74 1416.85,276.20 1420.42,292.57 1420.42,284.03 1421.18,287.50 1421.18,278.96 1422.84,286.58 1422.84,278.04 1424.50,285.66 1424.50,277.12 1427.65,291.56 1427.65,283.03 1430.80,297.47 1430.80,288.93 1431.60,292.60 1431.60,284.07 1432.40,287.73 1432.40,279.20 1433.20,282.87 1433.20,274.33 1434.00,278.00 1434.00,269.46 1434.80,273.13 1434.80,264.59 1435.60,268.26 1435.60,259.73 1436.40,263.40 1436.40,254.86 1437.20,258.53 1437.20,249.99 1438.00,253.66 1438.00,245.12 1438.80,248.79 1438.80,240.26 1439.60,243.92 1439.60,235.39 1444.11,256.04 1444.11,247.50 1444.54,249.49 1444.54,240.95 1444.97,242.94 1444.97,234.41 1445.41,236.39 1445.41,227.86 1445.84,229.84 1445.84,221.31 1448.88,235.22 1448.88,226.69 1449.62,230.08 1449.62,221.55 1450.36,224.94 1450.36,216.41 1455.27,238.90 1455.27,230.36 1456.83,237.51 1456.83,228.98 1458.39,236.13 1458.39,227.59 1459.94,234.74 1459.94,226.20 1461.43,233.03" fill="none" stroke="#132a70" stroke-opacity="0.95" stroke-width="2.083" stroke-linejoin="round" stroke-linecap="square"/>
<path d="M1070.5 39.5 V427.5 M1070.5 427.5 H1480.5" fill="none" stroke="#000" stroke-width="1.111" stroke-linecap="square"/>
<path d="M1089.5 427.5 v4.86 M1163.5 427.5 v4.86 M1238.5 427.5 v4.86 M1312.5 427.5 v4.86 M1387.5 427.5 v4.86 M1461.5 427.5 v4.86 M1070.5 404.5 h-4.86 M1070.5 318.5 h-4.86 M1070.5 233.5 h-4.86 M1070.5 148.5 h-4.86 M1070.5 62.5 h-4.86" fill="none" stroke="#000" stroke-width="1.111"/>
<g font-size="16.667" text-anchor="middle" letter-spacing="-0.40">
<text x="1088.70" y="448.32">0.0</text>
<text x="1162.70" y="448.32">0.2</text>
<text x="1237.70" y="448.32">0.4</text>
<text x="1311.70" y="448.32">0.6</text>
<text x="1386.70" y="448.32">0.8</text>
<text x="1460.70" y="448.32">1.0</text>
</g>
<g font-size="16.667" text-anchor="end" letter-spacing="-0.40">
<text x="1059.59" y="410.33">−0.10</text>
<text x="1059.59" y="324.33">−0.05</text>
<text x="1059.59" y="239.33">0.00</text>
<text x="1059.59" y="154.33">0.05</text>
<text x="1059.59" y="68.33">0.10</text>
</g>
<text x="1275.67" y="475.01" font-size="22.222" text-anchor="middle" letter-spacing="0.04">Distance rank statistic</text>
<text x="1275.22" y="31.00" font-size="25.000" font-style="italic" text-anchor="middle">σ</text>
<rect x="1174.68" y="49.65" width="295.65" height="62.91" rx="3.89" fill="#fff" fill-opacity="0.8" stroke="#ccc" stroke-opacity="0.8" stroke-width="1.389"/>
<path d="M1181.16 65.05 H1221.85" stroke="#132a70" stroke-opacity="0.95" stroke-width="2.083"/>
<rect x="1182.71" y="87.70" width="38.60" height="13.60" fill="#808080" fill-opacity="0.2" stroke="#808080" stroke-opacity="0.2" stroke-width="1.389"/>
<text x="1236.30" y="72.20" font-size="19.444">Rank ECDF</text>
<text x="1236.70" y="100.65" font-size="19.444" letter-spacing="-0.02">95% Confidence Bands</text>
</g>
<text transform="translate(26.90 234.38) rotate(-90)" font-size="22.222" text-anchor="middle" letter-spacing="-0.06">ECDF Difference</text>
</svg>
</body></html>
